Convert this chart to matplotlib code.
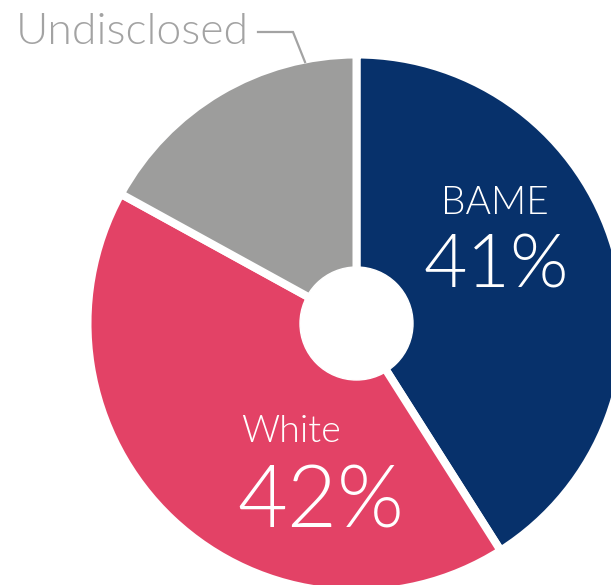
import matplotlib
matplotlib.use("Agg")
import matplotlib.pyplot as plt
from matplotlib.patches import Circle

# data
groups = ["BAME", "White", "Undisclosed"]
shares = [41, 42, 17]
colors = ["#07316b", "#e34266", "#9d9d9c"]

W, H = 611, 585
fig = plt.figure(figsize=(W / 100, H / 100), dpi=100)
ax = fig.add_axes([0, 0, 1, 1])

cx, cy = 356.5, H - 323.5
gap = 8  # px of white between wedges

ax.pie(shares, colors=colors, startangle=90, counterclock=False,
       center=(cx, cy), radius=265 + gap / 2, frame=True,
       wedgeprops=dict(edgecolor="white", linewidth=gap * 0.72))
ax.set_xlim(0, W)
ax.set_ylim(0, H)
ax.set_aspect("equal")
ax.axis("off")
ax.add_patch(Circle((cx, cy), 56.5, color="white", zorder=5))

font = "Lato"
wt = 300
# in-slice labels
ax.text(495, H - 203, groups[0], color="white", fontsize=28, family=font,
        weight=wt, ha="center", va="center")
ax.text(496, H - 267, f"{shares[0]}%", color="white", fontsize=54, family=font,
        weight=wt, ha="center", va="center")
ax.text(241, H - 432, groups[1], color="white", fontsize=27, family=font,
        weight=wt, ha="left", va="center")
ax.text(237, H - 503, f"{shares[1]}%", color="white", fontsize=62, family=font,
        weight=wt, ha="left", va="center")

# outside label with leader line
ax.text(16, H - 32, groups[2], color="#a3a3a3", fontsize=32, family=font,
        weight=wt, ha="left", va="center")
ax.plot([258, 293, 305], [H - 32, H - 32, H - 62], color="#a3a3a3",
        lw=1.6, solid_joinstyle="miter")

fig.savefig("out.png", dpi=100)
